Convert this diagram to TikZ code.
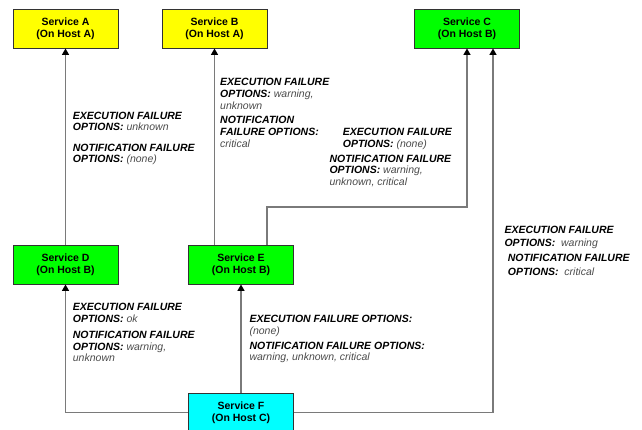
\documentclass[tikz,border=0pt]{standalone}
\usepackage{fontspec}
\setmainfont{Liberation Sans}
\usepackage{tikz}
\usetikzlibrary{positioning,arrows.meta}

\definecolor{valgray}{HTML}{4A4A4A}
\definecolor{linegray}{HTML}{7A7A7A}
\definecolor{svcyellow}{HTML}{FFFF00}
\definecolor{svcgreen}{HTML}{00FF00}
\definecolor{svccyan}{HTML}{00FFFF}
\newcommand{\optkey}[1]{{\bfseries\itshape #1}}
\newcommand{\optval}[1]{{\itshape\color{valgray}#1}}

\begin{document}
\begin{tikzpicture}[
  x=1pt, y=-1pt,
  svc/.style={draw=black!80, line width=0.9pt, minimum width=105pt, minimum height=39pt,
    inner sep=0pt, align=center, font=\bfseries\fontsize{10.5}{12}\selectfont},
  hosta/.style={svc, fill=svcyellow},
  hostb/.style={svc, fill=svcgreen},
  hostc/.style={svc, fill=svccyan},
  % anchored at the baseline of the last line
  opts/.style={anchor=base west, inner sep=0pt, align=left,
    font=\fontsize{10.5}{11.7}\selectfont},
  conn/.style={draw=linegray, line width=1.5pt, ->},
  >={Triangle[width=7pt,length=6.5pt,color=black]}
]
  \useasboundingbox (0,0) rectangle (642,430);

  % Top row
  \node[hosta] (asvc) at (65.5,28.5)  {Service A\\(On Host A)};
  \node[hosta] (bsvc) at (214.5,28.5) {Service B\\(On Host A)};
  \node[hostb] (csvc) at (467,28.5)   {Service C\\(On Host B)};

  % Middle row
  \node[hostb] (dsvc) at (65.5,264.5) {Service D\\(On Host B)};
  \node[hostb] (esvc) at (241,264.5)  {Service E\\(On Host B)};

  % Bottom
  \node[hostc] (fsvc) at (241,412.5)  {Service F\\(On Host C)};

  \coordinate (ecbend) at (267,207);

  \draw[conn] (dsvc) -- (asvc);
  \draw[conn] (esvc.north -| bsvc.south) -- (bsvc.south);
  \draw[conn] (esvc.north -| ecbend) -- (ecbend) -| (csvc.south);
  \draw[conn] (fsvc) -- (esvc);
  \draw[conn] (fsvc.west) -| (dsvc.south);
  \draw[conn] (fsvc.east) -| ([xshift=26pt]csvc.south);

  % Option labels
  \node[opts] (adexec) at (72.7,131) {\optkey{EXECUTION FAILURE}\\\optkey{OPTIONS:} \optval{unknown}};
  \node[opts] (adnote) at (72.7,163) {\optkey{NOTIFICATION FAILURE}\\\optkey{OPTIONS:} \optval{(none)}};

  \node[opts] (beexec) at (220,109.3) {\optkey{EXECUTION FAILURE}\\\optkey{OPTIONS:} \optval{warning,}\\\optval{unknown}};
  \node[opts] (benote) at (220,147.3) {\optkey{NOTIFICATION}\\\optkey{FAILURE OPTIONS:}\\\optval{critical}};

  \node[opts] (ecexec) at (342.7,147.7) {\optkey{EXECUTION FAILURE}\\\optkey{OPTIONS:} \optval{(none)}};
  \node[opts] (ecnote) at (329.3,185.7) {\optkey{NOTIFICATION FAILURE}\\\optkey{OPTIONS:} \optval{warning,}\\\optval{unknown, critical}};

  \node[opts] (fcexec) at (504.3,246.7) {\optkey{EXECUTION FAILURE}\\[1.6pt]\optkey{OPTIONS:}\ \ \optval{warning}};
  \node[opts] (fcnote) at (507.7,275) {\optkey{NOTIFICATION FAILURE}\\[1.6pt]\optkey{OPTIONS:}\ \ \optval{critical}};

  \node[opts] (fdexec) at (72.7,322.3) {\optkey{EXECUTION FAILURE}\\\optkey{OPTIONS:} \optval{ok}};
  \node[opts] (fdnote) at (72.7,361.7) {\optkey{NOTIFICATION FAILURE}\\\optkey{OPTIONS:} \optval{warning,}\\\optval{unknown}};

  \node[opts] (feexec) at (249.3,334.3) {\optkey{EXECUTION FAILURE OPTIONS:}\\\optval{(none)}};
  \node[opts] (fenote) at (249.3,360.7) {\optkey{NOTIFICATION FAILURE OPTIONS:}\\\optval{warning, unknown, critical}};
\end{tikzpicture}
\end{document}
